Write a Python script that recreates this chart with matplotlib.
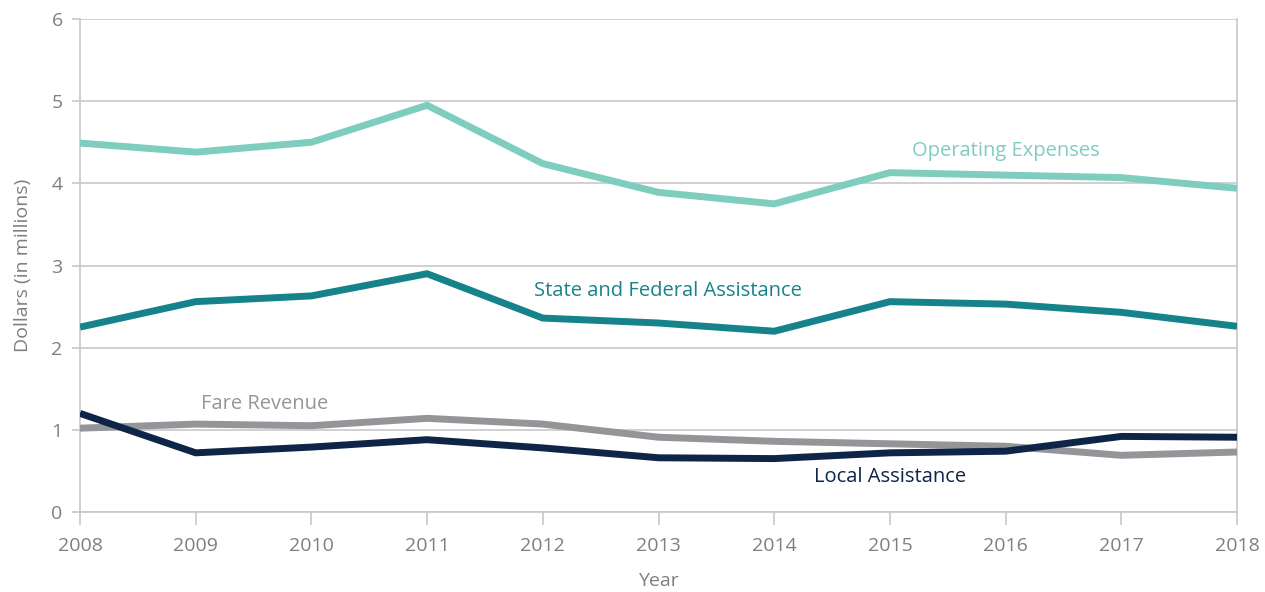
import matplotlib.pyplot as plt

plt.rcParams['font.family'] = ['Open Sans', 'DejaVu Sans']

years = list(range(2008, 2019))
operating_expenses = [4.49, 4.38, 4.50, 4.95, 4.24, 3.89, 3.75, 4.13, 4.10, 4.07, 3.94]
state_federal = [2.25, 2.56, 2.63, 2.90, 2.36, 2.30, 2.20, 2.56, 2.53, 2.43, 2.26]
fare_revenue = [1.02, 1.07, 1.05, 1.14, 1.07, 0.91, 0.86, 0.83, 0.80, 0.69, 0.73]
local_assistance = [1.20, 0.72, 0.79, 0.88, 0.78, 0.66, 0.65, 0.72, 0.74, 0.92, 0.91]

c_op = '#7ecdbf'
c_sf = '#16838b'
c_fare = '#939598'
c_local = '#0e2547'
grid_c = '#c8c8c8'
text_c = '#7f7f7f'

fig = plt.figure(figsize=(12.65, 5.92), dpi=100)
ax = fig.add_axes([80/1265, 1-512/592, (1237-80)/1265, (512-19)/592])

lw = 5
ax.plot(years, fare_revenue, color=c_fare, lw=lw, solid_capstyle='butt', zorder=3)
ax.plot(years, local_assistance, color=c_local, lw=lw, solid_capstyle='butt', zorder=4)
ax.plot(years, state_federal, color=c_sf, lw=lw, solid_capstyle='butt', zorder=3)
ax.plot(years, operating_expenses, color=c_op, lw=lw, solid_capstyle='butt', zorder=3)

fs_lab = 14.5
ax.text(2016.0, 4.39, 'Operating Expenses', color=c_op, fontsize=fs_lab, ha='center', va='center')
ax.text(2013.08, 2.69, 'State and Federal Assistance', color=c_sf, fontsize=fs_lab, ha='center', va='center')
ax.text(2009.6, 1.31, 'Fare Revenue', color=c_fare, fontsize=fs_lab, ha='center', va='center')
ax.text(2015.0, 0.43, 'Local Assistance', color=c_local, fontsize=fs_lab, ha='center', va='center')

ax.set_xlim(2008, 2018)
ax.set_ylim(0, 6)
ax.set_xticks(years)
ax.set_yticks(range(0, 7))
ax.grid(axis='y', color=grid_c, lw=1.2, zorder=0)
ax.set_axisbelow(True)

ax.spines['top'].set_visible(False)
for s in ['left', 'right', 'bottom']:
    ax.spines[s].set_color(grid_c)
    ax.spines[s].set_linewidth(1.2)

ax.tick_params(axis='both', colors=grid_c, labelcolor=text_c, labelsize=14, width=1.2)
ax.tick_params(axis='x', length=9, pad=9)
ax.tick_params(axis='y', length=5.5, pad=7)

ax.set_xlabel('Year', color=text_c, fontsize=14, labelpad=12)
ax.set_ylabel('Dollars (in millions)', color=text_c, fontsize=14, labelpad=14)

fig.savefig('out.png', dpi=100)
